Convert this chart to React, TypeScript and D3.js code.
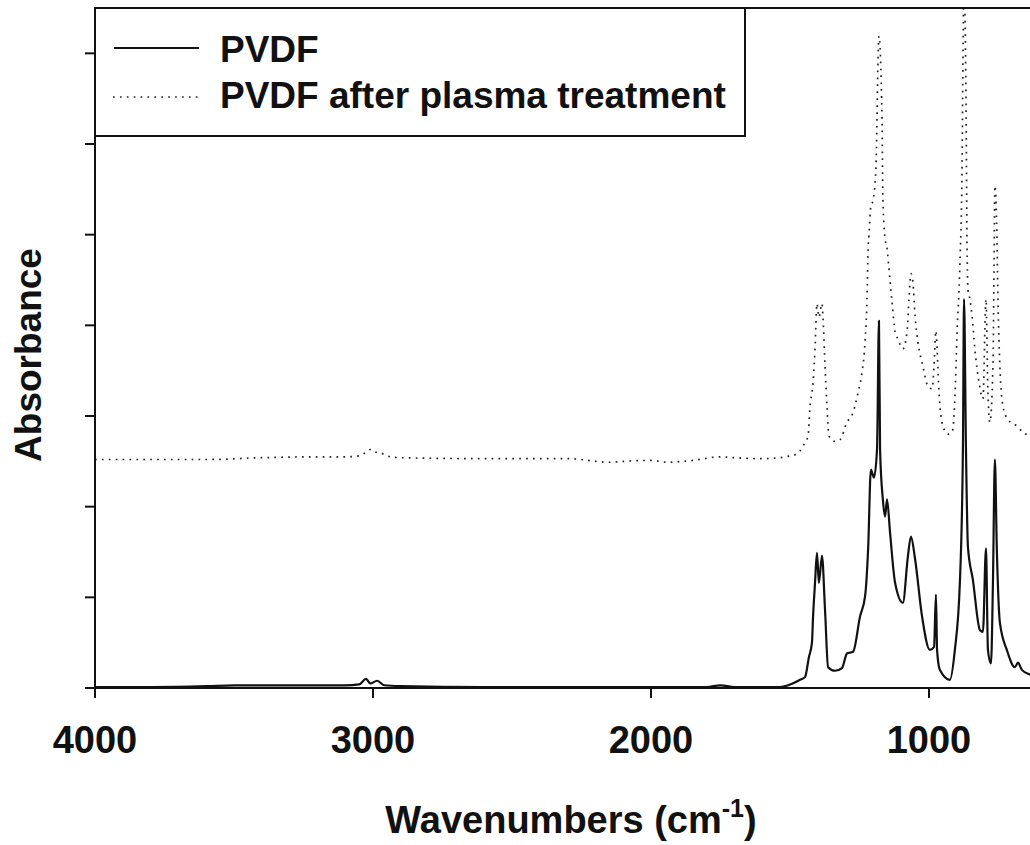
import React from "react";
import * as d3 from "d3";

// PVDF (solid) spectrum: [wavenumber cm-1, absorbance]
const pvdfWavenumbers = [4000, 3800, 3600, 3500, 3300, 3100, 3050, 3025, 3010, 2985, 2960, 2900, 2600, 2300, 2000, 1800, 1750, 1700, 1600, 1536,
  1464, 1446, 1432, 1421, 1417, 1410, 1403, 1396, 1385, 1374, 1363, 1338, 1313, 1295, 1273, 1248, 1230, 1219, 1209, 1198, 1187, 1180, 1176,
  1166, 1158, 1151, 1140, 1122, 1094, 1076, 1065, 1050, 1025, 997, 982, 975, 971, 961, 925, 907, 889, 878, 874, 867, 860, 842, 817, 806,
  795, 788, 777, 770, 763, 756, 745, 720, 691, 680, 666, 637, 601];
const pvdfAbsorbance = [0.001, 0.001, 0.002, 0.003, 0.003, 0.003, 0.004, 0.010, 0.005, 0.008, 0.003, 0.002, 0.001, 0.001, 0.001, 0.001, 0.003, 0.001, 0.001, 0.001,
  0.009, 0.012, 0.034, 0.050, 0.079, 0.116, 0.149, 0.116, 0.146, 0.086, 0.023, 0.019, 0.022, 0.038, 0.040, 0.079, 0.101, 0.153, 0.241, 0.232, 0.263, 0.405, 0.263,
  0.208, 0.189, 0.208, 0.171, 0.116, 0.094, 0.145, 0.167, 0.142, 0.079, 0.042, 0.045, 0.103, 0.042, 0.020, 0.009, 0.042, 0.116, 0.263, 0.429, 0.263, 0.156, 0.119, 0.064, 0.062,
  0.154, 0.042, 0.027, 0.116, 0.252, 0.153, 0.072, 0.042, 0.023, 0.028, 0.020, 0.015, 0.012];

// PVDF after plasma treatment (dotted)
const plasmaWavenumbers = [4000, 3600, 3400, 3200, 3100, 3050, 3025, 3010, 2995, 2980, 2950, 2900, 2600, 2300, 2150, 2100, 2000, 1940, 1850, 1750, 1700, 1600, 1536,
  1500, 1475, 1453, 1435, 1428, 1417, 1410, 1403, 1396, 1385, 1381, 1374, 1367, 1360, 1338, 1320, 1295, 1273, 1255, 1241, 1230, 1223, 1219, 1216, 1209, 1202, 1191,
  1187, 1184, 1180, 1169, 1166, 1158, 1151, 1144, 1133, 1122, 1112, 1094, 1079, 1072, 1065, 1058, 1050, 1040, 1022, 1004, 989, 982, 975, 971, 964, 950, 932, 917,
  907, 899, 889, 881, 878, 874, 867, 863, 860, 853, 845, 835, 820, 806, 795, 788, 781, 770, 766, 763, 756, 752, 745, 734, 716, 684, 662, 637, 601];
const plasmaAbsorbance = [0.252, 0.252, 0.254, 0.255, 0.255, 0.256, 0.260, 0.263, 0.260, 0.260, 0.256, 0.254, 0.253, 0.253, 0.249, 0.250, 0.251, 0.249, 0.251, 0.255, 0.254, 0.253, 0.254,
  0.256, 0.258, 0.267, 0.278, 0.310, 0.337, 0.374, 0.424, 0.409, 0.424, 0.407, 0.355, 0.311, 0.278, 0.272, 0.274, 0.293, 0.304, 0.326, 0.348, 0.382, 0.429, 0.485, 0.499, 0.532, 0.537, 0.573,
  0.628, 0.684, 0.719, 0.628, 0.540, 0.496, 0.485, 0.462, 0.426, 0.393, 0.385, 0.374, 0.393, 0.429, 0.457, 0.448, 0.410, 0.382, 0.355, 0.333, 0.330, 0.355, 0.394, 0.374, 0.326, 0.289, 0.280, 0.282,
  0.319, 0.393, 0.466, 0.576, 0.687, 0.780, 0.650, 0.485, 0.440, 0.429, 0.410, 0.374, 0.337, 0.319, 0.429, 0.326, 0.293, 0.355, 0.466, 0.554, 0.503, 0.429, 0.355, 0.311, 0.296, 0.289, 0.282, 0.278, 0.274];

const xTickValues = [4000, 3000, 2000, 1000];
const yTickValues = [0, 0.1, 0.2, 0.3, 0.4, 0.5, 0.6, 0.7];
const seriesNames = ["PVDF", "PVDF after plasma treatment"];
const xTitle = "Wavenumbers (cm";
const xTitleSup = "-1";
const yTitle = "Absorbance";

const W = 1030;
const H = 845;
const left = 95;
const top = 8;
const bottom = 688;
const right = 1068;
const font = "'Liberation Sans', Arial, Helvetica, sans-serif";

export default function App() {
  const x = d3.scaleLinear().domain([4000, 500]).range([left, right]);
  const y = d3.scaleLinear().domain([0, 0.75]).range([bottom, top]);
  const line = d3
    .line<[number, number]>()
    .x((d) => x(d[0]))
    .y((d) => y(d[1]))
    .curve(d3.curveMonotoneX);
  const pvdf = pvdfWavenumbers.map((w, i) => [w, pvdfAbsorbance[i]] as [number, number]);
  const plasma = plasmaWavenumbers.map((w, i) => [w, plasmaAbsorbance[i]] as [number, number]);

  return (
    <div style={{ position: "absolute", left: 0, top: 0, width: W, height: H, overflow: "hidden", background: "#fff" }}>
      <svg width={W} height={H} style={{ display: "block" }} fontFamily={font}>
        <defs>
          <clipPath id="plotClip">
            <rect x={left} y={top} width={right - left} height={bottom - top} />
          </clipPath>
        </defs>
        <rect x={0} y={0} width={W} height={H} fill="#fff" />
        <g clipPath="url(#plotClip)">
          <path d={line(plasma) || ""} fill="none" stroke="#222" strokeWidth={1.7} strokeDasharray="1.7 5.2" strokeLinecap="butt" />
          <path d={line(pvdf) || ""} fill="none" stroke="#111" strokeWidth={2.2} strokeLinejoin="round" />
        </g>
        {/* frame */}
        <line x1={left} y1={bottom} x2={right} y2={bottom} stroke="#111" strokeWidth={2} />
        <line x1={left} y1={top} x2={right} y2={top} stroke="#111" strokeWidth={2} />
        <line x1={left} y1={top} x2={left} y2={bottom} stroke="#111" strokeWidth={2} />
        <line x1={right} y1={top} x2={right} y2={bottom} stroke="#111" strokeWidth={2} />
        {/* y ticks */}
        {yTickValues.map((v) => (
          <line key={"yt" + v} x1={left - 10} x2={left} y1={y(v)} y2={y(v)} stroke="#111" strokeWidth={2} />
        ))}
        {/* x ticks */}
        {xTickValues.map((v) => (
          <g key={"xt" + v}>
            <line x1={x(v)} x2={x(v)} y1={bottom} y2={bottom + 10} stroke="#111" strokeWidth={2} />
            <text x={x(v)} y={753} textAnchor="middle" fontSize={38} fontWeight="bold" fill="#111">
              {v}
            </text>
          </g>
        ))}
        {/* axis titles */}
        <text x={571} y={833} textAnchor="middle" fontSize={38} fontWeight="bold" fill="#111">
          {xTitle}
          <tspan fontSize={25} dy={-16}>{xTitleSup}</tspan>
          <tspan dy={16}>)</tspan>
        </text>
        <text transform={`translate(41,355) rotate(-90)`} textAnchor="middle" fontSize={37} fontWeight="bold" fill="#111">
          {yTitle}
        </text>
        {/* legend */}
        <rect x={left} y={top} width={650} height={128} fill="#fff" stroke="#111" strokeWidth={2} />
        <line x1={114} x2={199} y1={48} y2={48} stroke="#111" strokeWidth={2} />
        <line x1={113} x2={198} y1={97} y2={97} stroke="#222" strokeWidth={1.7} strokeDasharray="1.7 5.2" />
        <text x={220} y={62} fontSize={37} fontWeight="bold" fill="#111">{seriesNames[0]}</text>
        <text x={220} y={108} fontSize={37} fontWeight="bold" fill="#111">{seriesNames[1]}</text>
      </svg>
    </div>
  );
}
